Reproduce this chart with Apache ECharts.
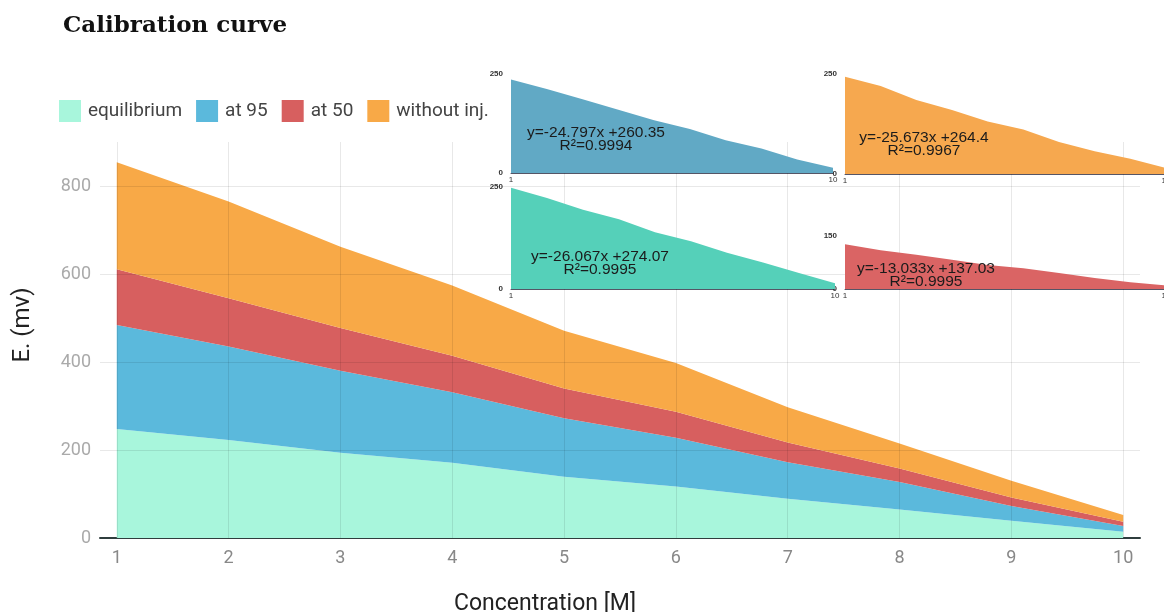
<!DOCTYPE html>
<html><head><meta charset="utf-8">
<script src="https://cdn.jsdelivr.net/npm/echarts@6/dist/echarts.min.js"></script>
<style>html,body{margin:0;padding:0;background:#fff}#c{width:1164px;height:612px}</style>
</head><body><div id="c"></div><script>
// ---- data ----
const concentration = [1, 2, 3, 4, 5, 6, 7, 8, 9, 10];
const equilibrium = [248, 223, 194, 171, 139, 117, 89, 65, 39, 14];
const at95 = [236, 212, 186, 160, 133, 111, 83, 62, 34, 13];
const at50 = [127, 110, 97, 83, 68, 59, 45, 31, 19, 10];
const withoutInj = [243, 220, 185, 160, 131, 111, 80, 57, 38, 15];
const seriesNames = ['equilibrium', 'at 95', 'at 50', 'without inj.'];
const yTicks = [0, 200, 400, 600, 800];
const fitAt95 = ['y=-24.797x +260.35', 'R\u00B2=0.9994'];
const fitWithout = ['y=-25.673x +264.4', 'R\u00B2=0.9967'];
const fitEquil = ['y=-26.067x +274.07', 'R\u00B2=0.9995'];
const fitAt50 = ['y=-13.033x +137.03', 'R\u00B2=0.9995'];

const mainColors = ['#a8f6dc', '#5bb9dc', '#d75f5f', '#f8a947'];
const insetColors = {at95: '#61a9c5', without: '#f6a84f', equil: '#55d0b9', at50: '#da6464'};

// value first, concentration second (encode maps them), so the stack runs on the value dimension
const pairs = vals => concentration.map((c, i) => [vals[i], c]);

const mainSeries = [equilibrium, at95, at50, withoutInj].map((vals, i) => ({
  name: seriesNames[i], type: 'line', stack: 'total', xAxisIndex: 0, yAxisIndex: 0,
  data: pairs(vals), encode: {x: 1, y: 0}, symbol: 'none', smooth: false,
  lineStyle: {width: 0}, itemStyle: {color: mainColors[i]},
  areaStyle: {color: mainColors[i], opacity: 1}
}));
mainSeries[3].markLine = {
  silent: true, symbol: ['none', 'none'], label: {show: false}, animation: false,
  lineStyle: {color: 'rgba(0,0,0,0.09)', type: 'solid', width: 1},
  data: concentration.map(c => ({xAxis: c})).concat(yTicks.filter(v => v > 0).map(v => ({yAxis: v})))
};

const insets = [
  {vals: at95, color: insetColors.at95, grid: {left: 511, top: 74, width: 322, height: 99}, max: 250, fit: fitAt95, tx: 596, ty: 139.5},
  {vals: withoutInj, color: insetColors.without, grid: {left: 845, top: 74, width: 321, height: 100}, max: 250, fit: fitWithout, tx: 924, ty: 144},
  {vals: equilibrium, color: insetColors.equil, grid: {left: 511, top: 187, width: 324, height: 102}, max: 250, fit: fitEquil, tx: 600, ty: 263.5},
  {vals: at50, color: insetColors.at50, grid: {left: 845, top: 236, width: 321, height: 53}, max: 150, fit: fitAt50, tx: 926, ty: 275.5}
];

const grids = [{left: 100, right: 24, top: 142, bottom: 74}].concat(insets.map(s => s.grid))
  .map(g => Object.assign({outerBoundsMode: 'none', containLabel: false}, g));
const xAxes = [{
  type: 'value', gridIndex: 0, min: 0.85, max: 10.15,
  name: 'Concentration [M]', nameLocation: 'middle', nameGap: 55,
  nameTextStyle: {fontFamily: 'Roboto', fontSize: 23, color: '#222', padding: [0, 150, 0, 0]},
  axisLine: {show: true, lineStyle: {color: '#2f3d3d', width: 2}},
  axisTick: {show: false}, splitLine: {show: false},
  axisLabel: {customValues: concentration, fontFamily: 'Roboto', fontSize: 18, color: '#888', margin: 11}
}];
const yAxes = [{
  type: 'value', gridIndex: 0, min: 0, max: 900,
  name: 'E. (mv)', nameLocation: 'middle', nameGap: 65, nameRotate: 90,
  nameTextStyle: {fontFamily: 'Roboto', fontSize: 24, color: '#222', padding: [0, 0, 0, 30]},
  axisLine: {show: false}, axisTick: {show: false}, splitLine: {show: false},
  axisLabel: {customValues: yTicks, fontFamily: 'Roboto', fontSize: 18, color: '#aaa', margin: 9}
}];
const insetSeries = [];
const graphics = [];
insets.forEach((s, k) => {
  const gi = k + 1;
  xAxes.push({
    type: 'value', gridIndex: gi, min: concentration[0], max: concentration[concentration.length - 1],
    axisLine: {show: true, lineStyle: {color: '#556', width: 1}},
    axisTick: {show: false}, splitLine: {show: false},
    axisLabel: {customValues: [concentration[0], concentration[concentration.length - 1]], fontSize: 8, color: '#333', margin: 3, fontFamily: 'Liberation Sans'}
  });
  yAxes.push({
    type: 'value', gridIndex: gi, min: 0, max: s.max,
    axisLine: {show: false}, axisTick: {show: false}, splitLine: {show: false},
    axisLabel: {customValues: [0, s.max], fontSize: 8, color: '#333', margin: 8, fontFamily: 'Liberation Sans', fontWeight: 'bold'}
  });
  insetSeries.push({
    name: 'inset' + k, type: 'line', xAxisIndex: gi, yAxisIndex: gi,
    data: pairs(s.vals), encode: {x: 1, y: 0}, symbol: 'none', lineStyle: {width: 0},
    itemStyle: {color: s.color}, areaStyle: {color: s.color, opacity: 1}, z: 5
  });
  graphics.push({
    type: 'text', x: s.tx, y: s.ty, z: 100,
    style: {text: s.fit.join('\n'), font: '15.5px "Liberation Sans", Arial, sans-serif', fill: '#1b1b1b',
      textAlign: 'center', textVerticalAlign: 'middle', lineHeight: 13}
  });
});

const chart = echarts.init(document.getElementById('c'), null, {renderer: 'canvas'});
chart.setOption({
  animation: false,
  backgroundColor: '#fff',
  title: {text: 'Calibration curve', left: 58, top: 10,
    textStyle: {fontFamily: '"DejaVu Serif", serif', fontWeight: 'bold', fontSize: 23, color: '#111'}},
  legend: {data: seriesNames, left: 54, top: 95, icon: 'rect', itemWidth: 22, itemHeight: 22, itemGap: 14,
    textStyle: {fontFamily: 'Roboto', fontSize: 19, color: '#444', padding: [0, 0, 0, 2]}},
  grid: grids, xAxis: xAxes, yAxis: yAxes,
  series: mainSeries.concat(insetSeries),
  graphic: graphics
});
</script></body></html>
